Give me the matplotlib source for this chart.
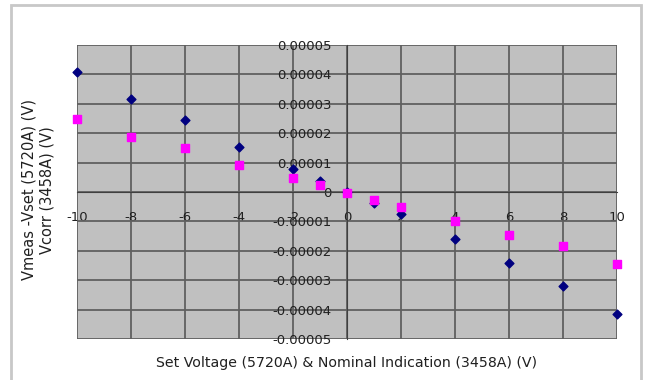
import matplotlib.pyplot as plt
import matplotlib.patches as patches
from matplotlib.ticker import FuncFormatter, MultipleLocator

# Set voltage (V)
x_vals = [-10, -8, -6, -4, -2, -1, 0, 1, 2, 4, 6, 8, 10]

# Vmeas - Vset (5720A)
vmeas = [4.08e-5, 3.17e-5, 2.45e-5, 1.54e-5, 0.77e-5, 0.37e-5, 0.0,
         -0.38e-5, -0.76e-5, -1.60e-5, -2.43e-5, -3.19e-5, -4.15e-5]

# Vcorr (3458A)
vcorr = [2.50e-5, 1.88e-5, 1.49e-5, 0.91e-5, 0.47e-5, 0.24e-5, -0.02e-5,
         -0.27e-5, -0.50e-5, -0.98e-5, -1.46e-5, -1.83e-5, -2.45e-5]

plt.rcParams['font.family'] = ['DejaVu Sans']

fig = plt.figure(figsize=(6.46, 3.80), dpi=100)
ax = fig.add_axes([77 / 646, 1 - 339 / 380, 540 / 646, 294 / 380])
ax.set_facecolor('#c0c0c0')

# outer chart border
fig.patches.append(patches.Rectangle((11 / 646, -0.1), 630 / 646, 1.1 - 5 / 380,
                                     transform=fig.transFigure, fill=False,
                                     edgecolor='#c8c8c8', lw=2))

ax.scatter(x_vals, vmeas, marker='D', s=20, color='#000080', zorder=3, clip_on=False)
ax.scatter(x_vals, vcorr, marker='s', s=26, color='#ff00ff', zorder=4, clip_on=False)

ax.set_xlim(-10, 10)
ax.set_ylim(-5e-5, 5e-5)
ax.xaxis.set_major_locator(MultipleLocator(2))
ax.yaxis.set_major_locator(MultipleLocator(1e-5))

ax.grid(True, color='#606060', lw=1.3)
ax.set_axisbelow(True)

for side in ['top', 'right']:
    ax.spines[side].set_visible(False)
ax.spines['left'].set_position(('data', 0))
ax.spines['bottom'].set_position(('data', 0))
ax.spines['left'].set_color('#404040')
ax.spines['bottom'].set_color('#404040')


def yfmt(v, pos):
    if abs(v) < 1e-12:
        return '0'
    return f'{v:.5f}'


def xfmt(v, pos):
    return f'{v:.0f}'


ax.yaxis.set_major_formatter(FuncFormatter(yfmt))
ax.xaxis.set_major_formatter(FuncFormatter(xfmt))
ax.tick_params(axis='y', length=0, pad=11, labelsize=9.5, labelcolor='#202020')
ax.tick_params(axis='x', length=0, pad=14, labelsize=9.5, labelcolor='#202020')

fig.text(347 / 646, 1 - 363 / 380,
         'Set Voltage (5720A) & Nominal Indication (3458A) (V)',
         ha='center', va='center', fontsize=10.2, color='#202020')
fig.text(38 / 646, 1 - 190 / 380,
         'Vmeas -Vset (5720A) (V)\nVcorr (3458A) (V)',
         ha='center', va='center', rotation=90, multialignment='center',
         fontsize=10.5, color='#202020')

fig.savefig('out.png', dpi=100)
